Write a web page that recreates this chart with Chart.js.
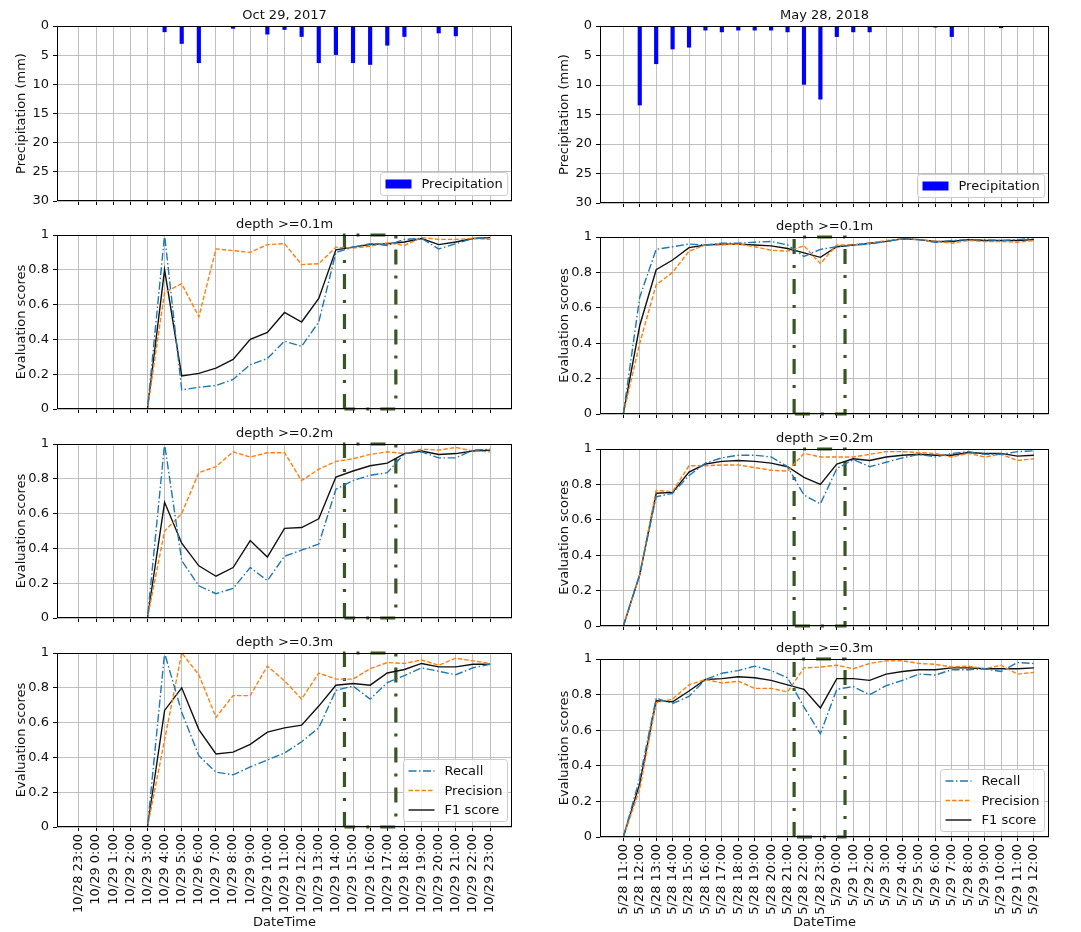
<!DOCTYPE html>
<html>
<head>
<meta charset="utf-8">
<script src="https://cdn.jsdelivr.net/npm/chart.js@4.4.0/dist/chart.umd.min.js"></script>
<style>
  html, body { margin: 0; padding: 0; background: #fff; }
  #fig { position: relative; width: 1081px; height: 932px; overflow: hidden; background: #fff; }
  .panel { position: absolute; }
</style>
</head>
<body>
<div id="fig"></div>
<script>
// ── Data ──────────────────────────────────────────────────────────────────

const octLabels = [
  "10/28 23:00", "10/29 0:00", "10/29 1:00", "10/29 2:00", "10/29 3:00",
  "10/29 4:00", "10/29 5:00", "10/29 6:00", "10/29 7:00", "10/29 8:00",
  "10/29 9:00", "10/29 10:00", "10/29 11:00", "10/29 12:00", "10/29 13:00",
  "10/29 14:00", "10/29 15:00", "10/29 16:00", "10/29 17:00", "10/29 18:00",
  "10/29 19:00", "10/29 20:00", "10/29 21:00", "10/29 22:00", "10/29 23:00"
];
const mayLabels = [
  "5/28 11:00", "5/28 12:00", "5/28 13:00", "5/28 14:00", "5/28 15:00",
  "5/28 16:00", "5/28 17:00", "5/28 18:00", "5/28 19:00", "5/28 20:00",
  "5/28 21:00", "5/28 22:00", "5/28 23:00", "5/29 0:00", "5/29 1:00",
  "5/29 2:00", "5/29 3:00", "5/29 4:00", "5/29 5:00", "5/29 6:00",
  "5/29 7:00", "5/29 8:00", "5/29 9:00", "5/29 10:00", "5/29 11:00",
  "5/29 12:00"
];

// precipitation (mm)
const octRain = [0, 0, 0, 0, 0, 1.0, 3.0, 6.3, 0, 0.4, 0, 1.4, 0.6, 1.8, 6.3, 4.9, 6.3, 6.6, 3.3, 1.8, 0, 1.2, 1.7, 0, 0];
const mayRain = [0, 13.4, 6.4, 3.9, 3.6, 0.7, 1.0, 0.7, 0.7, 0.7, 1.0, 9.9, 12.4, 1.8, 1.0, 1.0, 0, 0, 0, 0.2, 1.8, 0, 0, 0.3, 0, 0];

// Oct 29, 2017
const octRecall1    = [0, 0, 0, 0, 0, 1.0, 0.11, 0.125, 0.135, 0.17, 0.255, 0.29, 0.39, 0.36, 0.5, 0.9, 0.93, 0.95, 0.94, 0.975, 0.98, 0.92, 0.95, 0.98, 0.985];
const octPrecision1 = [0, 0, 0, 0, 0, 0.67, 0.72, 0.53, 0.92, 0.91, 0.90, 0.945, 0.95, 0.83, 0.835, 0.93, 0.925, 0.935, 0.955, 0.94, 0.985, 0.975, 0.975, 0.98, 0.975];
const octF1_1       = [0, 0, 0, 0, 0, 0.8, 0.19, 0.205, 0.235, 0.285, 0.40, 0.44, 0.555, 0.50, 0.635, 0.915, 0.93, 0.945, 0.95, 0.96, 0.98, 0.945, 0.96, 0.98, 0.985];

const octRecall2    = [0, 0, 0, 0, 0, 1.0, 0.33, 0.185, 0.14, 0.17, 0.29, 0.215, 0.355, 0.39, 0.425, 0.74, 0.79, 0.82, 0.835, 0.945, 0.955, 0.92, 0.92, 0.965, 0.97];
const octPrecision2 = [0, 0, 0, 0, 0, 0.5, 0.6, 0.835, 0.87, 0.955, 0.925, 0.95, 0.95, 0.79, 0.855, 0.90, 0.915, 0.94, 0.955, 0.945, 0.97, 0.965, 0.98, 0.96, 0.955];
const octF1_2       = [0, 0, 0, 0, 0, 0.665, 0.43, 0.30, 0.24, 0.29, 0.445, 0.35, 0.515, 0.52, 0.57, 0.81, 0.845, 0.875, 0.89, 0.945, 0.96, 0.94, 0.945, 0.96, 0.965];

const octRecall3    = [0, 0, 0, 0, 0, 1.0, 0.66, 0.41, 0.315, 0.30, 0.345, 0.385, 0.425, 0.49, 0.57, 0.785, 0.81, 0.735, 0.83, 0.87, 0.915, 0.895, 0.875, 0.915, 0.935];
const octPrecision3 = [0, 0, 0, 0, 0, 0.5, 1.0, 0.875, 0.63, 0.755, 0.755, 0.925, 0.84, 0.735, 0.885, 0.85, 0.85, 0.91, 0.945, 0.94, 0.96, 0.93, 0.97, 0.955, 0.94];
const octF1_3       = [0, 0, 0, 0, 0, 0.67, 0.8, 0.56, 0.42, 0.43, 0.475, 0.545, 0.57, 0.585, 0.695, 0.815, 0.825, 0.815, 0.885, 0.905, 0.94, 0.92, 0.92, 0.935, 0.935];

// May 28, 2018
const mayRecall1    = [0, 0.66, 0.93, 0.945, 0.96, 0.955, 0.965, 0.965, 0.97, 0.975, 0.955, 0.89, 0.93, 0.945, 0.955, 0.96, 0.975, 0.99, 0.985, 0.97, 0.98, 0.985, 0.985, 0.98, 0.985, 0.995];
const mayPrecision1 = [0, 0.4, 0.73, 0.8, 0.92, 0.955, 0.955, 0.96, 0.945, 0.925, 0.92, 0.95, 0.85, 0.955, 0.955, 0.965, 0.98, 0.99, 0.985, 0.975, 0.965, 0.98, 0.975, 0.975, 0.97, 0.98];
const mayF1_1       = [0, 0.5, 0.815, 0.87, 0.94, 0.955, 0.96, 0.96, 0.955, 0.95, 0.935, 0.91, 0.885, 0.945, 0.955, 0.965, 0.975, 0.99, 0.985, 0.975, 0.975, 0.985, 0.98, 0.98, 0.98, 0.985];

const mayRecall2    = [0, 0.29, 0.73, 0.75, 0.85, 0.92, 0.95, 0.965, 0.965, 0.955, 0.9, 0.74, 0.69, 0.89, 0.94, 0.9, 0.925, 0.95, 0.97, 0.955, 0.975, 0.985, 0.97, 0.97, 0.985, 0.99];
const mayPrecision2 = [0, 0.29, 0.765, 0.76, 0.905, 0.905, 0.91, 0.91, 0.895, 0.88, 0.875, 0.975, 0.955, 0.955, 0.955, 0.97, 0.985, 0.985, 0.98, 0.975, 0.955, 0.975, 0.955, 0.97, 0.935, 0.945];
const mayF1_2       = [0, 0.29, 0.75, 0.755, 0.87, 0.915, 0.93, 0.935, 0.93, 0.92, 0.9, 0.84, 0.80, 0.915, 0.945, 0.935, 0.955, 0.965, 0.97, 0.965, 0.965, 0.98, 0.975, 0.975, 0.96, 0.965];

const mayRecall3    = [0, 0.33, 0.78, 0.75, 0.79, 0.885, 0.92, 0.935, 0.96, 0.935, 0.895, 0.73, 0.58, 0.83, 0.845, 0.8, 0.85, 0.88, 0.915, 0.91, 0.94, 0.94, 0.945, 0.93, 0.98, 0.975];
const mayPrecision3 = [0, 0.27, 0.755, 0.775, 0.855, 0.885, 0.865, 0.875, 0.835, 0.835, 0.815, 0.95, 0.955, 0.965, 0.945, 0.975, 0.99, 0.99, 0.975, 0.97, 0.955, 0.96, 0.945, 0.965, 0.915, 0.925];
const mayF1_3       = [0, 0.3, 0.765, 0.76, 0.82, 0.885, 0.89, 0.9, 0.895, 0.88, 0.855, 0.83, 0.725, 0.89, 0.89, 0.88, 0.915, 0.93, 0.94, 0.94, 0.95, 0.95, 0.945, 0.945, 0.945, 0.95];

// flood window (in x-tick units) outlined by the green box
const octWindow = [15.5, 18.5];
const mayWindow = [10.4, 13.5];

// ── Style ─────────────────────────────────────────────────────────────────

const FONT = "'DejaVu Sans', sans-serif";
const INK = "#111";
const GRID = "#b0b0b0";

Chart.defaults.font.family = FONT;
Chart.defaults.font.size = 13;
Chart.defaults.color = INK;
Chart.defaults.animation = false;

const fig = document.getElementById("fig");

function addCanvas(left, top, width, height) {
  const div = document.createElement("div");
  div.className = "panel";
  div.style.cssText = `left:${left}px;top:${top}px;width:${width}px;height:${height}px`;
  const c = document.createElement("canvas");
  c.width = width;
  c.height = height;
  c.style.width = width + "px";
  c.style.height = height + "px";
  div.appendChild(c);
  fig.appendChild(div);
  return c;
}

// ── Frame + in-axes legend ────────────────────────────────────────────────

function drawLegend(chart) {
  const { ctx, chartArea: a } = chart;
  const items = chart.data.datasets.filter(d => d.inLegend);
  if (!items.length) return;
  ctx.font = `13px ${FONT}`;
  const textW = Math.max(...items.map(d => ctx.measureText(d.label).width));
  const pad = 5, handle = 26, gap = 10, rowH = 19.5;
  const w = pad + handle + gap + textW + pad;
  const h = 23 + (items.length - 1) * rowH;
  const x = Math.round(a.right - 5 - w) + 0.5;
  const y = Math.round(a.bottom - 6 - h) + 0.5;

  ctx.beginPath();
  ctx.roundRect(x, y, w, h, 3);
  ctx.fillStyle = "rgba(255,255,255,0.8)";
  ctx.fill();
  ctx.strokeStyle = "#cccccc";
  ctx.lineWidth = 1;
  ctx.setLineDash([]);
  ctx.stroke();

  items.forEach((d, i) => {
    const cy = y + 11.5 + i * rowH;
    if (d.isBar) {
      ctx.fillStyle = d.backgroundColor;
      ctx.fillRect(x + pad, cy - 4.5, handle, 9);
    } else {
      ctx.beginPath();
      ctx.strokeStyle = d.borderColor;
      ctx.lineWidth = d.borderWidth;
      ctx.setLineDash(d.borderDash || []);
      ctx.moveTo(x + pad, cy);
      ctx.lineTo(x + pad + handle, cy);
      ctx.stroke();
      ctx.setLineDash([]);
    }
    ctx.fillStyle = INK;
    ctx.textBaseline = "middle";
    ctx.textAlign = "left";
    ctx.fillText(d.label, x + pad + handle + gap, cy + 1);
  });
}

const framePlugin = {
  id: "frame",
  afterDraw(chart) {
    const { ctx, chartArea: a } = chart;
    ctx.save();
    ctx.strokeStyle = "#000";
    ctx.lineWidth = 1;
    ctx.setLineDash([]);
    ctx.strokeRect(Math.round(a.left) + 0.5, Math.round(a.top) + 0.5,
                   Math.round(a.right - a.left) - 1, Math.round(a.bottom - a.top) - 1);
    drawLegend(chart);
    ctx.restore();
  }
};

// ── Scales ────────────────────────────────────────────────────────────────

function xAxis(labels, range, showLabels, height) {
  return {
    type: "linear",
    min: range[0],
    max: range[1],
    offset: false,
    afterBuildTicks: ax => { ax.ticks = labels.map((_, i) => ({ value: i })); },
    afterFit: ax => { ax.height = height; ax.paddingLeft = 0; ax.paddingRight = 0; },
    grid: { color: GRID, lineWidth: 0.8, tickColor: "#000", tickLength: 4, tickWidth: 1, offset: false },
    border: { display: false },
    ticks: {
      display: showLabels, autoSkip: false, minRotation: 90, maxRotation: 90,
      padding: 3, color: INK, callback: v => labels[v]
    },
    title: { display: showLabels, text: "DateTime", color: INK, padding: { top: 0, bottom: 2 } }
  };
}

function yAxis(isRain) {
  return {
    type: "linear",
    min: 0,
    max: isRain ? 30 : 1,
    reverse: isRain,
    afterFit: ax => { ax.width = 47; ax.paddingTop = 0; ax.paddingBottom = 0; },
    grid: { color: GRID, lineWidth: 0.8, tickColor: "#000", tickLength: 4, tickWidth: 1 },
    border: { display: false },
    ticks: {
      stepSize: isRain ? 5 : 0.2, padding: 4, color: INK,
      callback: v => String(Math.round(v * 10) / 10)
    },
    title: {
      display: true, text: isRain ? "Precipitation (mm)" : "Evaluation scores",
      color: INK, padding: { top: 4, bottom: 4 }
    }
  };
}

function baseOptions(title, labels, col, showLabels, xHeight, isRain) {
  return {
    responsive: false,
    animation: false,
    layout: { padding: { left: col.padL, right: col.padR, top: 0, bottom: 0 } },
    plugins: {
      legend: { display: false },
      tooltip: { enabled: false },
      title: {
        display: true, text: title, fullSize: false, color: INK,
        font: { size: 13, weight: "normal" }, padding: { top: 4, bottom: 2.4 }
      }
    },
    scales: { x: xAxis(labels, col.range, showLabels, xHeight), y: yAxis(isRain) }
  };
}

const toPoints = vals => vals.map((v, i) => ({ x: i, y: v }));

// ── Panels ────────────────────────────────────────────────────────────────

const leftCol  = { left: 0,   width: 540, padL: 10, padR: 28, range: [-1.28, 25.28] };
const rightCol = { left: 540, width: 541, padL: 13, padR: 32, range: [-1.42, 25.92] };

// plot rows: [top, bottom] of each axes box
const leftRows  = [[26, 201], [235, 409], [444, 618], [653, 827]];
const rightRows = [[26, 203], [237, 414], [449, 626], [659, 837]];

function panelCanvas(col, row, last) {
  const top = row[0] - 22;
  const height = last ? 932 - top : row[1] + 4 - top;
  return addCanvas(col.left, top, col.width, height);
}

function rainPanel(col, row, title, labels, rain) {
  const c = panelCanvas(col, row, false);
  new Chart(c, {
    type: "bar",
    data: {
      datasets: [{
        label: "Precipitation",
        data: toPoints(rain),
        backgroundColor: "#0000ff",
        borderWidth: 0,
        barThickness: 3.5,
        isBar: true,
        inLegend: true
      }]
    },
    options: baseOptions(title, labels, col, false, 4, true),
    plugins: [framePlugin]
  });
}

function scorePanel(col, row, last, title, labels, r, p, f, win) {
  const c = panelCanvas(col, row, last);
  const xHeight = last ? 932 - row[1] : 4;
  const boxPts = [
    { x: win[0], y: 0 }, { x: win[0], y: 1 }, { x: win[1], y: 1 },
    { x: win[1], y: 0 }, { x: win[0], y: 0 }
  ];
  new Chart(c, {
    type: "line",
    data: {
      datasets: [
        { label: "Recall", data: toPoints(r), borderColor: "#1f77b4",
          borderWidth: 1.4, borderDash: [8, 2.5, 1.5, 2.5], pointRadius: 0, tension: 0,
          inLegend: last },
        { label: "Precision", data: toPoints(p), borderColor: "#ff7f0e",
          borderWidth: 1.4, borderDash: [4.5, 2], pointRadius: 0, tension: 0,
          inLegend: last },
        { label: "F1 score", data: toPoints(f), borderColor: "#111111",
          borderWidth: 1.4, pointRadius: 0, tension: 0, inLegend: last },
        { label: "window", data: boxPts, borderColor: "#375623",
          borderWidth: 3.2, borderDash: [15, 11, 3, 11], pointRadius: 0, tension: 0,
          clip: false, inLegend: false }
      ]
    },
    options: baseOptions(title, labels, col, last, xHeight, false),
    plugins: [framePlugin]
  });
}

// Oct 29, 2017
rainPanel(leftCol, leftRows[0], "Oct 29, 2017", octLabels, octRain);
scorePanel(leftCol, leftRows[1], false, "depth >=0.1m", octLabels, octRecall1, octPrecision1, octF1_1, octWindow);
scorePanel(leftCol, leftRows[2], false, "depth >=0.2m", octLabels, octRecall2, octPrecision2, octF1_2, octWindow);
scorePanel(leftCol, leftRows[3], true,  "depth >=0.3m", octLabels, octRecall3, octPrecision3, octF1_3, octWindow);

// May 28, 2018
rainPanel(rightCol, rightRows[0], "May 28, 2018", mayLabels, mayRain);
scorePanel(rightCol, rightRows[1], false, "depth >=0.1m", mayLabels, mayRecall1, mayPrecision1, mayF1_1, mayWindow);
scorePanel(rightCol, rightRows[2], false, "depth >=0.2m", mayLabels, mayRecall2, mayPrecision2, mayF1_2, mayWindow);
scorePanel(rightCol, rightRows[3], true,  "depth >=0.3m", mayLabels, mayRecall3, mayPrecision3, mayF1_3, mayWindow);
</script>
</body>
</html>
